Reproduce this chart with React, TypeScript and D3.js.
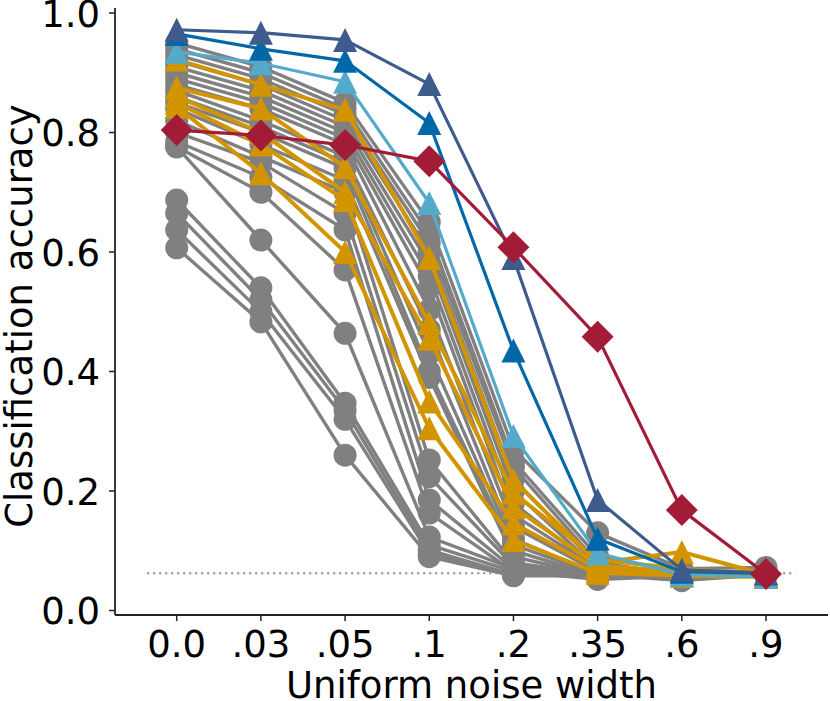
import React from 'react';
import * as d3 from 'd3';

const noiseLabels = ['0.0', '.03', '.05', '.1', '.2', '.35', '.6', '.9'];
const yTicks = [0, 0.2, 0.4, 0.6, 0.8, 1.0];
const chance = 0.0625;

// gray models (circles)
const grayRuns: number[][] = [
  [0.95, 0.91, 0.85, 0.65, 0.27, 0.13, 0.07, 0.072],
  [0.94, 0.9, 0.84, 0.63, 0.25, 0.09, 0.065, 0.065],
  [0.93, 0.89, 0.83, 0.615, 0.24, 0.08, 0.06, 0.06],
  [0.92, 0.88, 0.82, 0.6, 0.22, 0.075, 0.06, 0.065],
  [0.91, 0.87, 0.81, 0.58, 0.2, 0.07, 0.058, 0.06],
  [0.9, 0.86, 0.8, 0.56, 0.18, 0.068, 0.06, 0.062],
  [0.89, 0.85, 0.79, 0.54, 0.16, 0.07, 0.062, 0.06],
  [0.88, 0.84, 0.78, 0.503, 0.14, 0.065, 0.06, 0.058],
  [0.87, 0.82, 0.76, 0.47, 0.12, 0.06, 0.058, 0.062],
  [0.86, 0.81, 0.75, 0.43, 0.11, 0.06, 0.06, 0.06],
  [0.85, 0.8, 0.74, 0.4, 0.1, 0.058, 0.057, 0.06],
  [0.84, 0.78, 0.72, 0.39, 0.09, 0.058, 0.06, 0.063],
  [0.82, 0.76, 0.7, 0.252, 0.08, 0.06, 0.058, 0.06],
  [0.8, 0.75, 0.665, 0.224, 0.075, 0.06, 0.06, 0.06],
  [0.785, 0.725, 0.637, 0.185, 0.07, 0.058, 0.055, 0.058],
  [0.776, 0.7, 0.57, 0.163, 0.065, 0.06, 0.05, 0.06],
  [0.776, 0.62, 0.464, 0.123, 0.07, 0.06, 0.055, 0.06],
  [0.687, 0.54, 0.347, 0.11, 0.065, 0.052, 0.058, 0.06],
  [0.665, 0.52, 0.335, 0.101, 0.06, 0.058, 0.056, 0.058],
  [0.637, 0.5, 0.32, 0.095, 0.06, 0.06, 0.058, 0.06],
  [0.607, 0.483, 0.26, 0.09, 0.058, 0.058, 0.06, 0.06],
];

// orange models (triangles)
const orangeRuns: number[][] = [
  [0.922, 0.88, 0.838, 0.59, 0.218, 0.08, 0.098, 0.06],
  [0.875, 0.84, 0.742, 0.481, 0.197, 0.085, 0.07, 0.06],
  [0.86, 0.8, 0.7, 0.455, 0.173, 0.075, 0.065, 0.058],
  [0.85, 0.78, 0.687, 0.35, 0.146, 0.07, 0.062, 0.057],
  [0.843, 0.732, 0.6, 0.305, 0.118, 0.063, 0.058, 0.056],
];

const lightBlue = [0.935, 0.916, 0.885, 0.682, 0.292, 0.096, 0.06, 0.056];
const midBlue = [0.965, 0.94, 0.92, 0.816, 0.435, 0.12, 0.065, 0.062];
const navy = [0.972, 0.967, 0.955, 0.881, 0.59, 0.185, 0.068, 0.063];
const redRun = [0.804, 0.795, 0.779, 0.752, 0.608, 0.458, 0.168, 0.061];

const GRAY = '#808080';
const ORANGE = '#d29500';
const LIGHT = '#54aacb';
const MID = '#0068a8';
const NAVY = '#3f5a8c';
const RED = '#a31c37';

const font = '"DejaVu Sans", sans-serif';
const tickSize = 37;
const labelSize = 37;

const x = d3.scaleLinear().domain([0, 7]).range([176.7, 766]);
const y = d3.scaleLinear().domain([0, 1]).range([610.5, 13]);

const line = d3
  .line<number>()
  .x((_, i) => x(i))
  .y((d) => y(d));

const tri = (cx: number, cy: number, s: number) =>
  `M${cx},${cy - s}L${cx - s},${cy + s}L${cx + s},${cy + s}Z`;
const diamond = (cx: number, cy: number, s: number) =>
  `M${cx},${cy - s}L${cx + s},${cy}L${cx},${cy + s}L${cx - s},${cy}Z`;

const Series: React.FC<{ vals: number[]; color: string; width: number; marker: 'c' | 't' | 'd' }> = ({
  vals,
  color,
  width,
  marker,
}) => (
  <g>
    <path d={line(vals) || ''} fill="none" stroke={color} strokeWidth={width} strokeLinejoin="round" />
    {vals.map((v, i) =>
      marker === 'c' ? (
        <circle key={i} cx={x(i)} cy={y(v)} r={11.5} fill={color} />
      ) : marker === 't' ? (
        <path key={i} d={tri(x(i), y(v), 12)} fill={color} />
      ) : (
        <path key={i} d={diamond(x(i), y(v), 16)} fill={color} />
      )
    )}
  </g>
);

const App: React.FC = () => {
  const left = 115;
  const bottom = 615;
  return (
    <svg width={830} height={701} style={{ position: 'absolute', left: 0, top: 0 }} fontFamily={font}>
      <rect width={830} height={701} fill="#fff" />
      {/* chance level */}
      <line
        x1={x(-0.35)}
        x2={x(7.35)}
        y1={y(chance)}
        y2={y(chance)}
        stroke="#888"
        strokeWidth={2}
        strokeDasharray="2 4"
      />
      {grayRuns.map((r, i) => (
        <Series key={'g' + i} vals={r} color={GRAY} width={3.4} marker="c" />
      ))}
      {orangeRuns.map((r, i) => (
        <Series key={'o' + i} vals={r} color={ORANGE} width={4} marker="t" />
      ))}
      <Series vals={lightBlue} color={LIGHT} width={3.2} marker="t" />
      <Series vals={midBlue} color={MID} width={3.2} marker="t" />
      <Series vals={navy} color={NAVY} width={3.2} marker="t" />
      <Series vals={redRun} color={RED} width={3.2} marker="d" />

      {/* axes */}
      <line x1={left} x2={left} y1={8} y2={bottom} stroke="#222" strokeWidth={1.8} />
      <line x1={left} x2={828} y1={bottom} y2={bottom} stroke="#222" strokeWidth={1.8} />
      {yTicks.map((t) => (
        <g key={t}>
          <line x1={left - 6} x2={left} y1={y(t)} y2={y(t)} stroke="#222" strokeWidth={1.5} />
          <text x={100} y={y(t) + 13.5} textAnchor="end" fontSize={tickSize} fill="#000">
            {t.toFixed(1)}
          </text>
        </g>
      ))}
      {noiseLabels.map((l, i) => (
        <g key={l}>
          <line x1={x(i)} x2={x(i)} y1={bottom} y2={bottom + 6} stroke="#222" strokeWidth={1.5} />
          <text x={x(i)} y={657} textAnchor="middle" fontSize={tickSize} fill="#000">
            {l}
          </text>
        </g>
      ))}
      <text x={471.5} y={698} textAnchor="middle" fontSize={labelSize} fill="#000">
        Uniform noise width
      </text>
      <text transform="translate(32,316) rotate(-90)" textAnchor="middle" fontSize={labelSize} fill="#000">
        Classification accuracy
      </text>
    </svg>
  );
};

export default App;
